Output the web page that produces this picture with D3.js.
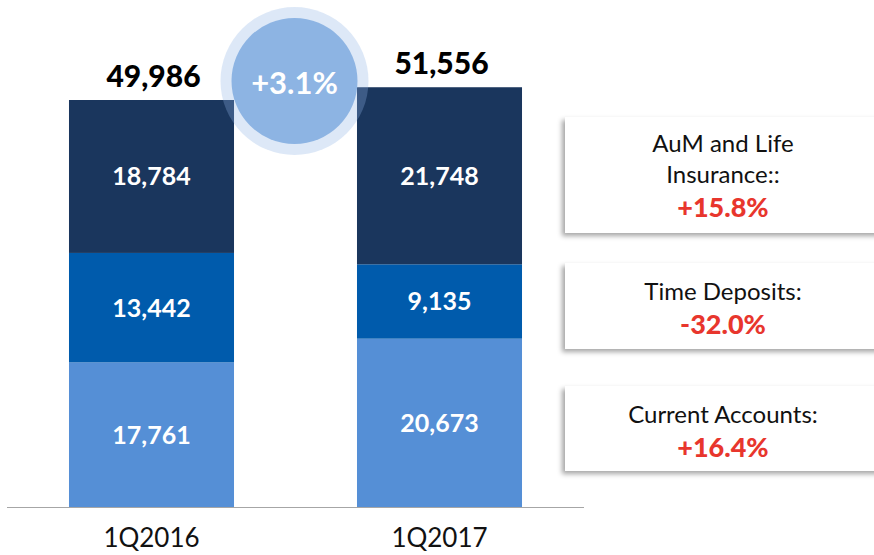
<html>
<head>
  <style>
	body{
		margin: 0;
		background: #fff
	}
	#deposits text{
		font-family: Lato, "DejaVu Sans", sans-serif
	}
	.total{
		font-weight: 900;
		font-size: 30px;
		fill: #000
	}
	.seg-label{
		font-weight: bold;
		font-size: 25px;
		fill: #fff
	}
	.cat{
		font-size: 26px;
		fill: #111
	}
	.box-title{
		font-size: 24px;
		fill: #111
	}
	.box-pct{
		font-weight: 900;
		font-size: 27px;
		fill: #e8362d
	}
  </style>
</head>

<body>
	<div id="deposits"></div>
	<script src="https://cdn.jsdelivr.net/npm/d3@7"></script>
	<script>
	  // data
	  var quarters    = ['1Q2016', '1Q2017'];
	  var current     = [17761, 20673];
	  var timeDep     = [13442, 9135];
	  var aumLife     = [18784, 21748];
	  var totals      = [49986, 51556];   // as printed (rounding)
	  var growthLabel = '+3.1%';
	  var boxTitles   = [['AuM and Life', 'Insurance::'], ['Time Deposits:'], ['Current Accounts:']];
	  var boxChanges  = ['+15.8%', '-32.0%', '+16.4%'];

	  (function () {
		  var
		    width   = 874,
		    height  = 555,
		    base    = 507,
		    colors  = ['#558fd6', '#005bac', '#1a365d'],
		    svg     = d3.select('#deposits').append('svg')
		                .attr('width', width)
		                .attr('height', height),
		    i;

		  var x = d3.scaleBand()
		    .domain(quarters)
		    .range([7.5, 583.5])
		    .paddingInner(0.427)
		    .paddingOuter(0.2135);

		  var y = d3.scaleLinear()
		    .domain([0, 62270])
		    .range([base, 0]);

		  // stack the three series per quarter
		  var rows = quarters.map(function (q, i) {
		    return { q: q, cur: current[i], td: timeDep[i], aum: aumLife[i] };
		  });
		  var stacked = d3.stack().keys(['cur', 'td', 'aum'])(rows);

		  var defs = svg.append('defs');
		  var f = defs.append('filter')
		    .attr('id', 'shadow')
		    .attr('x', '-10%').attr('y', '-10%')
		    .attr('width', '130%').attr('height', '130%');
		  f.append('feDropShadow')
		    .attr('dx', -3)
		    .attr('dy', 3)
		    .attr('stdDeviation', 2.5)
		    .attr('flood-color', '#000')
		    .attr('flood-opacity', 0.35);

		  var layers = svg.selectAll('g.layer')
		    .data(stacked)
		    .join('g')
		    .attr('class', 'layer')
		    .attr('fill', function (d, k) { return colors[k]; });

		  layers.selectAll('rect')
		    .data(function (d) { return d; })
		    .join('rect')
		    .attr('x', function (d) { return x(d.data.q); })
		    .attr('width', x.bandwidth())
		    .attr('y', function (d) { return y(d[1]); })
		    .attr('height', function (d) { return y(d[0]) - y(d[1]); });

		  layers.selectAll('text')
		    .data(function (d) { return d; })
		    .join('text')
		    .attr('class', 'seg-label')
		    .attr('x', function (d) { return x(d.data.q) + x.bandwidth() / 2; })
		    .attr('y', function (d) { return (y(d[0]) + y(d[1])) / 2; })
		    .attr('dy', '0.36em')
		    .attr('text-anchor', 'middle')
		    .text(function (d) { return d3.format(',')(d[1] - d[0]); });

		  // totals above bars
		  svg.selectAll('text.total')
		    .data(totals)
		    .join('text')
		    .attr('class', 'total')
		    .attr('x', function (d, k) { return x(quarters[k]) + x.bandwidth() / 2 + 2; })
		    .attr('y', function (d, k) { return y(d3.sum([current[k], timeDep[k], aumLife[k]])) - 13; })
		    .attr('text-anchor', 'middle')
		    .text(function (d) { return d3.format(',')(d); });

		  // baseline
		  svg.append('line')
		    .attr('x1', 7).attr('x2', 584)
		    .attr('y1', base + 0.5).attr('y2', base + 0.5)
		    .attr('stroke', '#a6a6a6')
		    .attr('stroke-width', 1.2);

		  svg.selectAll('text.cat')
		    .data(quarters)
		    .join('text')
		    .attr('class', 'cat')
		    .attr('x', function (d) { return x(d) + x.bandwidth() / 2; })
		    .attr('y', 547)
		    .attr('text-anchor', 'middle')
		    .text(function (d) { return d; });

		  // growth bubble between the bars
		  var cx = (x(quarters[0]) + x.bandwidth() + x(quarters[1])) / 2 - 1,
		      cy = 81;
		  svg.append('circle')
		    .attr('cx', cx).attr('cy', cy).attr('r', 74)
		    .attr('fill', '#8db4e3')
		    .attr('fill-opacity', 0.3);
		  svg.append('circle')
		    .attr('cx', cx).attr('cy', cy).attr('r', 63)
		    .attr('fill', '#8db4e3');
		  svg.append('text')
		    .attr('x', cx).attr('y', cy + 2)
		    .attr('dy', '0.36em')
		    .attr('text-anchor', 'middle')
		    .style('font-weight', 'bold')
		    .style('font-size', '31px')
		    .attr('fill', '#fff')
		    .text(growthLabel);

		  // change boxes on the right
		  var boxTop    = [117, 263, 386],
		      boxBottom = [233, 349, 471],
		      boxLeft   = 565,
		      boxMid    = 723;

		  var boxes = svg.selectAll('g.box')
		    .data(boxChanges)
		    .join('g')
		    .attr('class', 'box');

		  boxes.append('rect')
		    .attr('x', boxLeft)
		    .attr('y', function (d, k) { return boxTop[k]; })
		    .attr('width', 330)
		    .attr('height', function (d, k) { return boxBottom[k] - boxTop[k]; })
		    .attr('fill', '#fff')
		    .attr('filter', 'url(#shadow)');

		  boxes.each(function (d, k) {
		    var g = d3.select(this),
		        lines = boxTitles[k],
		        first = boxTop[k] + (lines.length === 2 ? 35 : 37);
		    for (i = 0; i < lines.length; i++) {
		      g.append('text')
		        .attr('class', 'box-title')
		        .attr('x', boxMid)
		        .attr('y', first + i * 31)
		        .attr('text-anchor', 'middle')
		        .text(lines[i]);
		    }
		    g.append('text')
		      .attr('class', 'box-pct')
		      .attr('x', boxMid)
		      .attr('y', first + lines.length * 31 + 3)
		      .attr('text-anchor', 'middle')
		      .text(d);
		  });
		})();
	</script>
</body>
</html>
